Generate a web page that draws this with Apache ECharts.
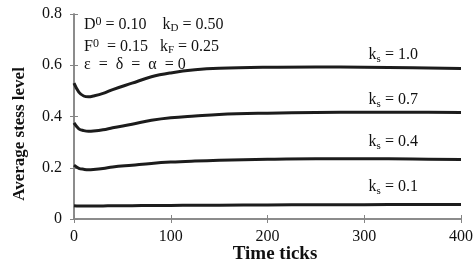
<!DOCTYPE html>
<html>
<head>
<meta charset="utf-8">
<script src="https://cdn.jsdelivr.net/npm/echarts@6/dist/echarts.min.js"></script>
<style>
  html, body { margin: 0; padding: 0; background: #fff; }
  #chart { width: 476px; height: 264px; }
</style>
</head>
<body>
<div id="chart"></div>
<script>
const ticks = [0, 5, 10, 15, 20, 30, 40, 60, 80, 100, 125, 150, 200, 250, 300, 350, 400];
const ks10 = [0.53, 0.495, 0.48, 0.477, 0.48, 0.49, 0.505, 0.53, 0.555, 0.57, 0.582, 0.588, 0.592, 0.593, 0.592, 0.59, 0.587];
const ks07 = [0.375, 0.352, 0.345, 0.342, 0.343, 0.348, 0.356, 0.37, 0.385, 0.395, 0.402, 0.408, 0.413, 0.416, 0.417, 0.417, 0.416];
const ks04 = [0.21, 0.198, 0.194, 0.192, 0.193, 0.197, 0.203, 0.21, 0.217, 0.222, 0.226, 0.229, 0.233, 0.235, 0.235, 0.234, 0.232];
const ks01 = [0.052, 0.051, 0.051, 0.051, 0.051, 0.051, 0.052, 0.052, 0.053, 0.053, 0.054, 0.054, 0.055, 0.056, 0.056, 0.057, 0.057];
const seriesNames = ['1.0', '0.7', '0.4', '0.1'];
const labelY = [0.64, 0.465, 0.3, 0.125]; // where each k_s label sits

let myChart = echarts.init(document.getElementById('chart'));
const serif = 'Liberation Serif';
const axisGray = '#858585';

function pairs(vals) {
  return ticks.map((t, i) => [t, vals[i]]);
}

let lines = [ks10, ks07, ks04, ks01].map((vals, i) => ({
  name: 'ks = ' + seriesNames[i],
  type: 'line',
  smooth: 0.4,
  symbol: 'none',
  lineStyle: { color: '#1c1c1c', width: 3 },
  data: pairs(vals)
}));

let option = {
  backgroundColor: '#fff',
  animation: false,
  grid: { left: 74, right: 10, top: 14, bottom: 45 },
  xAxis: [
    {
      type: 'value', min: 0, max: 400, interval: 100,
      axisLine: { lineStyle: { color: axisGray, width: 1.5 } },
      axisTick: { lineStyle: { color: axisGray }, length: 4 },
      axisLabel: { fontFamily: serif, fontSize: 16, color: '#111', margin: 10 },
      splitLine: { show: false }
    },
    {
      type: 'value', position: 'top', min: 0, max: 400, interval: 100,
      axisLine: { show: true, lineStyle: { color: axisGray, width: 1.5 } },
      axisTick: { show: true, lineStyle: { color: axisGray }, length: 4 },
      axisLabel: { show: false },
      splitLine: { show: false }
    }
  ],
  yAxis: [
    {
      type: 'value', min: 0, max: 0.8, interval: 0.2,
      axisLine: { show: true, lineStyle: { color: axisGray, width: 1.5 } },
      axisTick: { show: true, lineStyle: { color: axisGray }, length: 4 },
      axisLabel: {
        fontFamily: serif, fontSize: 16, color: '#111', margin: 12,
        formatter: v => (v === 0 ? '0' : v.toFixed(1))
      },
      splitLine: { show: false }
    },
    {
      type: 'value', position: 'right', min: 0, max: 0.8, interval: 0.2,
      axisLine: { show: true, lineStyle: { color: axisGray, width: 1.5 } },
      axisTick: { show: true, lineStyle: { color: axisGray }, length: 4 },
      axisLabel: { show: false },
      splitLine: { show: false }
    }
  ],
  series: lines
};
myChart.setOption(option);

// k_s labels above each curve, placed through the axes
const rich = {
  a: { fontFamily: serif, fontSize: 16, fill: '#111' },
  p: { fontFamily: serif, fontSize: 12, fill: '#111', padding: [0, 0, 5, 0] },
  b: { fontFamily: serif, fontSize: 11, fill: '#111', padding: [8, 0, 0, 0] }
};
let graphics = seriesNames.map((n, i) => {
  let pt = myChart.convertToPixel({ xAxisIndex: 0, yAxisIndex: 0 }, [330, labelY[i]]);
  return {
    type: 'text', x: pt[0], y: pt[1],
    style: { text: '{a|k}{b|s}{a| = ' + n + '}', rich: rich, align: 'center', verticalAlign: 'middle' }
  };
});
graphics.push(
  { type: 'text', left: 84, top: 16, style: { text: '{a|D}{p|0}{a| = 0.10    k}{b|D}{a| = 0.50}', rich: rich } },
  { type: 'text', left: 84, top: 38, style: { text: '{a|F}{p|0}{a|  = 0.15   k}{b|F}{a| = 0.25}', rich: rich } },
  { type: 'text', left: 84, top: 57, style: { text: 'ε  =  δ  =  α  = 0', fontFamily: serif, fontSize: 16, fill: '#111' } },
  {
    type: 'text', x: 20, y: 134, rotation: Math.PI / 2,
    style: {
      text: 'Average stess level', fontFamily: serif, fontSize: 17, fontWeight: 'bold',
      fill: '#111', align: 'center', verticalAlign: 'middle'
    }
  },
  {
    type: 'text', x: 275, y: 254,
    style: {
      text: 'Time ticks', fontFamily: serif, fontSize: 19, fontWeight: 'bold',
      fill: '#111', align: 'center', verticalAlign: 'middle'
    }
  }
);
myChart.setOption({ graphic: graphics });

window.onresize = function () {
  myChart.resize();
};
</script>
</body>
</html>
